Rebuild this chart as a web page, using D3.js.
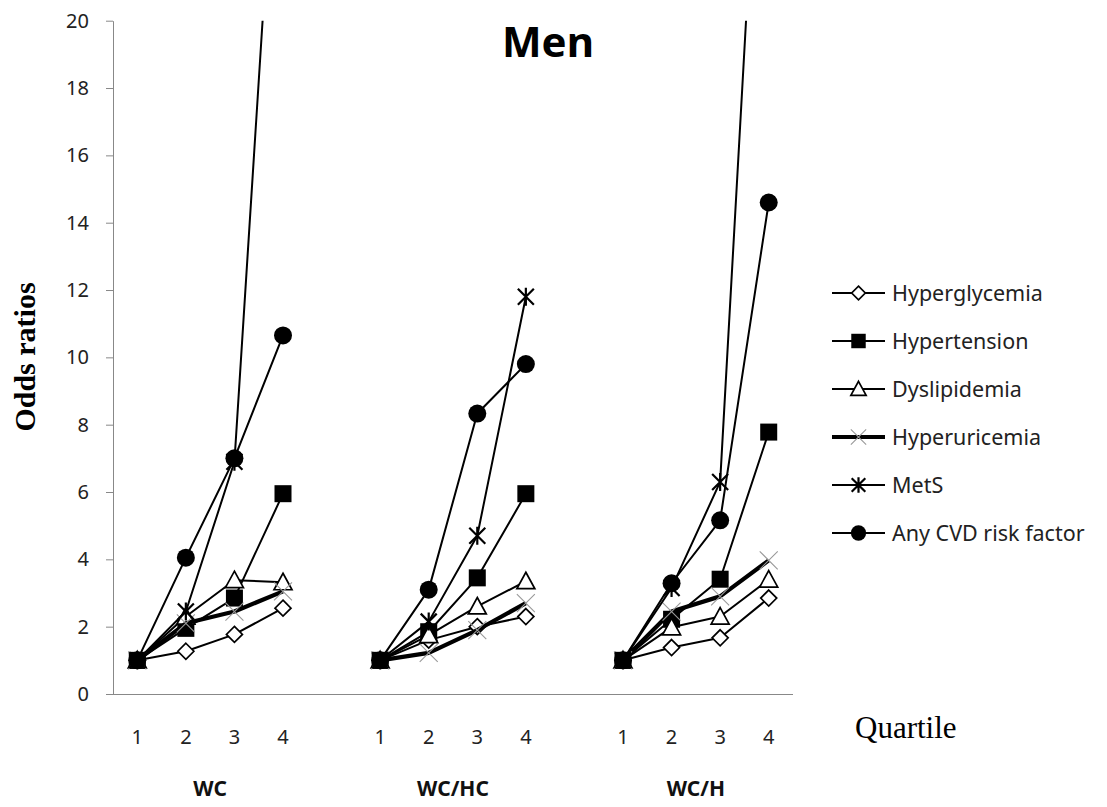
<!DOCTYPE html>
<html lang="en">
<head>
<meta charset="utf-8">
<title>Men - Odds ratios by quartile</title>
<script src="https://d3js.org/d3.v7.min.js"></script>
<style>
  html, body { margin: 0; padding: 0; background: #fff; }
  svg { display: block; }
  .axis text { font-family: "Noto Sans", sans-serif; fill: #222; }
  .axis path, .axis line { stroke: #888; }
</style>
</head>
<body>
<svg id="chart" width="1107" height="807"></svg>
<script>
// ---- data ----
const groups = ["WC", "WC/HC", "WC/H"];
const quartiles = ["1", "2", "3", "4"];
const yTicks = [0, 2, 4, 6, 8, 10, 12, 14, 16, 18, 20];

// odds ratios: quartiles 1-4 for WC, then WC/HC, then WC/H
const hyperglycemia = [1, 1.27, 1.77, 2.55,  1, 1.6, 2.0, 2.3,    1, 1.38, 1.67, 2.85];
const hypertension  = [1, 1.95, 2.85, 5.95,  1, 1.85, 3.45, 5.95, 1, 2.22, 3.41, 7.78];
const dyslipidemia  = [1, 2.3, 3.38, 3.32,   1, 1.75, 2.6, 3.35,  1, 1.98, 2.3, 3.4];
const hyperuricemia = [1, 2.1, 2.45, 3.05,   1, 1.22, 1.9, 2.7,   1, 2.45, 2.9, 3.97];
const mets          = [1, 2.45, 6.9, 29.5,   1, 2.15, 4.7, 11.8,  1, 3.15, 6.3, 32];
const anyCvd        = [1, 4.05, 7.0, 10.65,  1, 3.1, 8.33, 9.8,   1, 3.29, 5.16, 14.6];

const series = [
  { name: "Hyperglycemia",       values: hyperglycemia, marker: "diamond",  width: 2 },
  { name: "Hypertension",        values: hypertension,  marker: "square",   width: 2 },
  { name: "Dyslipidemia",        values: dyslipidemia,  marker: "triangle", width: 2 },
  { name: "Hyperuricemia",       values: hyperuricemia, marker: "cross",    width: 4.2 },
  { name: "MetS",                values: mets,          marker: "star",     width: 2 },
  { name: "Any CVD risk factor", values: anyCvd,        marker: "circle",   width: 2 }
];

// ---- layout ----
const svg = d3.select("#chart");
const plotL = 113, plotR = 793, plotT = 20.7, plotB = 694;

// category slots: 4 quartiles per group with an empty slot between groups
const slots = [];
groups.forEach((g, gi) => {
  quartiles.forEach(q => slots.push(g + "|" + q));
  if (gi < groups.length - 1) slots.push("gap" + gi);
});

const x = d3.scaleBand().domain(slots).range([plotL, plotR]).padding(0);
const y = d3.scaleLinear().domain([0, 20]).range([plotB, plotT]);
const cx = key => x(key) + x.bandwidth() / 2;

svg.append("defs").append("clipPath").attr("id", "plot-clip")
  .append("rect")
  .attr("x", plotL).attr("y", plotT)
  .attr("width", plotR - plotL).attr("height", plotB - plotT);

// y axis
const yAxis = svg.append("g")
  .attr("class", "axis")
  .attr("transform", `translate(${plotL},0)`)
  .call(d3.axisLeft(y).tickValues(yTicks).tickSize(7).tickPadding(17).tickSizeOuter(0));
yAxis.selectAll("text").style("font-size", "20px");

// x axis (category labels only)
const xAxis = svg.append("g")
  .attr("class", "axis")
  .attr("transform", `translate(0,${plotB})`)
  .call(d3.axisBottom(x)
    .tickSize(0)
    .tickPadding(36)
    .tickFormat(d => d.startsWith("gap") ? "" : d.split("|")[1]));
xAxis.selectAll("text").style("font-size", "20px");
xAxis.select(".domain").attr("d", `M${plotL},0.5H${plotR}`);

// group labels
svg.append("g").selectAll("text")
  .data(groups)
  .join("text")
  .attr("x", g => (cx(g + "|1") + cx(g + "|4")) / 2)
  .attr("y", 796)
  .attr("text-anchor", "middle")
  .style("font-family", "'Noto Sans', sans-serif")
  .style("font-weight", "bold")
  .style("font-size", "21px")
  .attr("fill", "#111")
  .text(d => d);

// titles
svg.append("text")
  .attr("x", 548).attr("y", 57)
  .attr("text-anchor", "middle")
  .style("font-family", "'Noto Sans', sans-serif")
  .style("font-weight", "bold")
  .style("font-size", "42px")
  .text("Men");

svg.append("text")
  .attr("transform", "translate(35,357) rotate(-90)")
  .attr("text-anchor", "middle")
  .style("font-family", "'Liberation Serif', 'Times New Roman', serif")
  .style("font-weight", "bold")
  .style("font-size", "30px")
  .text("Odds ratios");

svg.append("text")
  .attr("x", 855).attr("y", 738)
  .style("font-family", "'Liberation Serif', 'Times New Roman', serif")
  .style("font-size", "31px")
  .text("Quartile");

// ---- markers ----
function drawMarker(g, type, s) {
  if (type === "diamond") {
    g.append("path").attr("d", `M0,${-8*s}L${8*s},0L0,${8*s}L${-8*s},0Z`)
      .attr("fill", "#fff").attr("stroke", "#000").attr("stroke-width", 1.7);
  } else if (type === "square") {
    g.append("rect").attr("x", -8.5*s).attr("y", -8.5*s)
      .attr("width", 17*s).attr("height", 17*s).attr("fill", "#000");
  } else if (type === "triangle") {
    g.append("path").attr("d", `M0,${-9*s}L${9*s},${7.5*s}L${-9*s},${7.5*s}Z`)
      .attr("fill", "#fff").attr("stroke", "#000").attr("stroke-width", 1.7);
  } else if (type === "cross") {
    g.append("path").attr("d", `M${-9*s},${-9*s}L${9*s},${9*s}M${-9*s},${9*s}L${9*s},${-9*s}`)
      .attr("stroke", "#999").attr("stroke-width", 1.1).attr("fill", "none");
  } else if (type === "star") {
    g.append("path")
      .attr("d", `M${-8*s},${-8*s}L${8*s},${8*s}M${-8*s},${8*s}L${8*s},${-8*s}M0,${-9*s}L0,${9*s}`)
      .attr("stroke", "#000").attr("stroke-width", 2.2).attr("fill", "none");
  } else if (type === "circle") {
    g.append("circle").attr("r", 9*s).attr("fill", "#000");
  }
}

// ---- series ----
const plot = svg.append("g").attr("clip-path", "url(#plot-clip)");
const line = d3.line().x(d => d.x).y(d => d.y);

series.forEach(s => {
  const sg = plot.append("g");
  groups.forEach((g, gi) => {
    const pts = quartiles.map((q, qi) => ({
      x: cx(g + "|" + q),
      y: y(s.values[gi * 4 + qi])
    }));
    sg.append("path")
      .attr("d", line(pts))
      .attr("fill", "none")
      .attr("stroke", "#000")
      .attr("stroke-width", s.width)
      .attr("stroke-linejoin", "round");
    pts.forEach(p => {
      const m = sg.append("g").attr("transform", `translate(${p.x},${p.y})`);
      drawMarker(m, s.marker, 1);
    });
  });
});

// ---- legend ----
const legend = svg.append("g");
series.forEach((s, i) => {
  const ly = 293 + i * 48;
  const row = legend.append("g").attr("transform", `translate(0,${ly})`);
  row.append("line")
    .attr("x1", 832).attr("x2", 885)
    .attr("stroke", "#000").attr("stroke-width", s.width);
  drawMarker(row.append("g").attr("transform", "translate(858.5,0)"), s.marker, 0.85);
  row.append("text")
    .attr("x", 892).attr("y", 0).attr("dy", "0.36em")
    .style("font-family", "'Noto Sans', sans-serif")
    .style("font-size", "21.5px")
    .attr("fill", "#222")
    .text(s.name);
});
</script>
</body>
</html>
